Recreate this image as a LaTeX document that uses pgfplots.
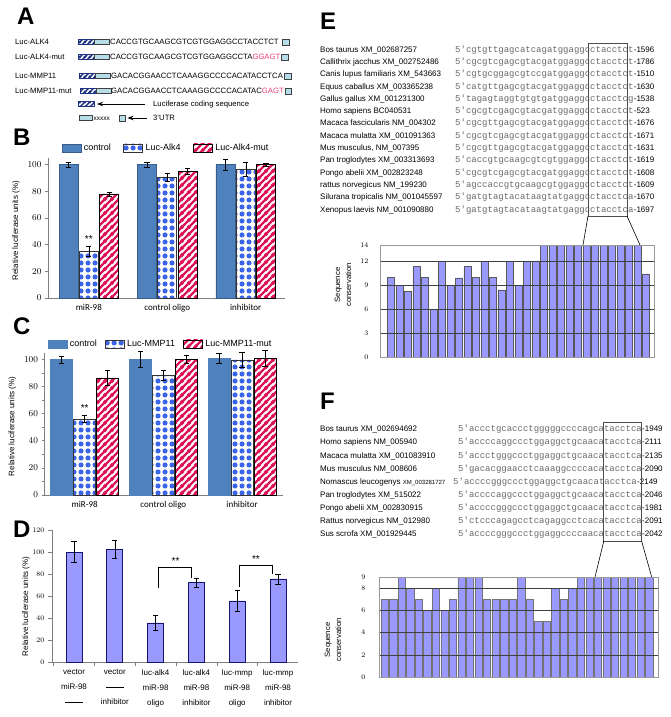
\documentclass[border=0pt]{standalone}
\usepackage{fontspec}
\setmainfont{Liberation Sans}
\newfontfamily\calibri{Carlito}
\newfontfamily\mono{Liberation Mono}
\usepackage{pgfplots}
\pgfplotsset{compat=1.18}
\usetikzlibrary{patterns,arrows.meta}

\definecolor{ctrlblue}{RGB}{79,129,189}
\definecolor{ctrledge}{RGB}{56,93,138}
\definecolor{dotblue}{RGB}{60,100,230}
\definecolor{stripered}{RGB}{220,20,90}
\definecolor{dbar}{RGB}{153,153,255}
\definecolor{dedge}{RGB}{20,20,110}
\definecolor{cyanbox}{RGB}{183,222,232}
\definecolor{navy}{RGB}{30,50,130}
\definecolor{seqgray}{RGB}{105,105,105}
\definecolor{pinktxt}{RGB}{232,60,120}

\pgfdeclarepatternformonly{bigdots}{\pgfqpoint{0pt}{0pt}}{\pgfqpoint{6.5pt}{6.5pt}}{\pgfqpoint{6.5pt}{6.5pt}}{%
  \pgfpathcircle{\pgfqpoint{3.25pt}{3.25pt}}{2.75pt}\pgfusepath{fill}}
\pgfdeclarepatternformonly{thickstripes}{\pgfqpoint{0pt}{0pt}}{\pgfqpoint{7pt}{7pt}}{\pgfqpoint{7pt}{7pt}}{%
  \pgfsetlinewidth{2.5pt}%
  \pgfpathmoveto{\pgfqpoint{-1pt}{-1pt}}\pgfpathlineto{\pgfqpoint{8pt}{8pt}}%
  \pgfpathmoveto{\pgfqpoint{-4pt}{3pt}}\pgfpathlineto{\pgfqpoint{4pt}{11pt}}%
  \pgfpathmoveto{\pgfqpoint{3pt}{-4pt}}\pgfpathlineto{\pgfqpoint{11pt}{4pt}}%
  \pgfusepath{stroke}}
\pgfdeclarepatternformonly{lucstripes}{\pgfqpoint{0pt}{0pt}}{\pgfqpoint{5pt}{5pt}}{\pgfqpoint{5pt}{5pt}}{%
  \pgfsetlinewidth{1.7pt}%
  \pgfpathmoveto{\pgfqpoint{-1pt}{-1pt}}\pgfpathlineto{\pgfqpoint{6pt}{6pt}}%
  \pgfpathmoveto{\pgfqpoint{-3pt}{2pt}}\pgfpathlineto{\pgfqpoint{3pt}{8pt}}%
  \pgfpathmoveto{\pgfqpoint{2pt}{-3pt}}\pgfpathlineto{\pgfqpoint{8pt}{3pt}}%
  \pgfusepath{stroke}}

\newcommand\panelfont{\fontsize{24}{24}\selectfont\bfseries}
\newcommand\afont{\fontsize{7.7}{9}\selectfont}
\newcommand\namefont{\fontsize{8}{9}\selectfont}
\newcommand\seqfont{\mono\fontsize{9}{10}\selectfont}
\newcommand\numfont{\fontsize{8}{9}\selectfont}

% x-start, y, name, sequence, number
\newcommand\seqrow[5]{%
  \node[anchor=base west, inner sep=0, font=\namefont] at (320,#2+2.8) {#3};
  \node[anchor=base west, inner sep=0, font=\seqfont, text=seqgray] (s) at (#1,#2+2.8) {5'#4};
  \node[anchor=base west, inner sep=0, font=\numfont] at (s.base east) {-#5};
}
\newcommand\stripebox[2]{%
  \fill[white] (#1,#2-2.5) rectangle ++(16,5);
  \fill[pattern=lucstripes, pattern color=navy] (#1,#2-2.5) rectangle ++(16,5);
  \draw[navy, line width=0.5pt] (#1,#2-2.5) rectangle ++(16,5);
}
\newcommand\cbox[3]{%
  \draw[gray!50!black, line width=0.5pt, fill=cyanbox] (#1,#2-2.5) rectangle ++(#3,5);
}

\pgfplotsset{
  boxleg/.style={legend image code/.code={\draw[##1] (0pt,-4pt) rectangle (19pt,4pt);}},
  bcstyle/.style={
    scale only axis, anchor=south west,
    axis x line*=bottom, axis y line*=left,
    axis line style={gray, line width=0.6pt},
    xtick={0,1,2}, xticklabels={miR-98,control oligo,inhibitor},
    x tick label style={font=\calibri\fontsize{9}{10}\selectfont},
    xtick style={draw=none},
    ytick={0,20,...,100},
    y tick label style={font=\fontsize{9}{10}\selectfont},
    ytick style={gray, line width=0.5pt}, tick align=outside, major tick length=3pt,
    ymin=0, ymax=105,
    legend columns=3,
    every axis y label/.style={at={(axis description cs:-0.135,0.48)}, rotate=90, anchor=center, font=\fontsize{8}{9}\selectfont},
    ylabel={Relative luciferase units (\%)},
    clip=false,
  },
  errs/.style={error bars/.cd, y dir=both, y explicit,
    error bar style={draw=black, line width=0.5pt},
    error mark options={rotate=90, draw=black, mark size=2.6pt, line width=0.5pt}},
  consstyle/.style={
    scale only axis, anchor=south west,
    axis on top, xtick=\empty,
    axis line style={gray!80, line width=0.6pt},
    ymajorgrids, major grid style={black!75, line width=0.5pt},
    ytick style={draw=none},
    y tick label style={font=\fontsize{7}{8}\selectfont},
    ymin=0,
  },
}

\begin{document}
\begin{tikzpicture}
\path[use as bounding box] (0,0) rectangle (670pt,-717pt);

% ---------------- Panel B  (bars 0.2587 units apart)
\begin{axis}[bcstyle, at={(48pt,-298pt)}, width=237pt, height=140.2pt,
  xmin=-0.52, xmax=2.5,
  legend style={at={(axis description cs:0.058,1.07)}, anchor=west, draw=none, fill=none,
    inner sep=0pt, outer sep=0pt, font=\fontsize{9}{10}\selectfont,
    nodes={inner sep=2.6pt}, /tikz/every even column/.append style={column sep=10pt}}]
\addplot[ybar, bar width=19pt, bar shift=0pt, fill=ctrlblue, draw=ctrledge, line width=0.5pt, boxleg, errs]
  coordinates {(-0.2587,100) +- (0,2) (0.7413,100) +- (0,2) (1.7413,100) +- (0,4)};
\addplot[ybar, bar width=19pt, bar shift=0pt, draw=black!80, line width=0.6pt, pattern=bigdots, pattern color=dotblue, boxleg, errs]
  coordinates {(0,35) +- (0,4) (1,90.5) +- (0,3) (2,96.5) +- (0,5)};
\addplot[ybar, bar width=19pt, bar shift=0pt, draw=black, line width=0.6pt, pattern=thickstripes, pattern color=stripered, boxleg, errs]
  coordinates {(0.2587,78) +- (0,1.5) (1.2587,95) +- (0,2.5) (2.2587,100) +- (0,1)};
\legend{control,Luc-Alk4,Luc-Alk4-mut}
\node[font=\fontsize{10}{10}\selectfont] at (axis cs:0,44) {**};
\end{axis}

% ---------------- Panel C  (bars 0.2922 units apart)
\begin{axis}[bcstyle, at={(44.5pt,-495pt)}, width=238.5pt, height=142.5pt,
  xmin=-0.51, xmax=2.52, minor y tick num=1,
  legend style={at={(axis description cs:0.015,1.06)}, anchor=west, draw=none, fill=none,
    inner sep=0pt, outer sep=0pt, font=\fontsize{9}{10}\selectfont,
    nodes={inner sep=2.4pt}, /tikz/every even column/.append style={column sep=6pt}}]
\addplot[ybar, bar width=22pt, bar shift=0pt, fill=ctrlblue, draw=ctrlblue, line width=0.3pt, boxleg, errs]
  coordinates {(-0.2922,100) +- (0,2.6) (0.7078,100) +- (0,5.8) (1.7078,100.5) +- (0,3.7)};
\addplot[ybar, bar width=22pt, bar shift=0pt, draw=black!80, line width=0.6pt, pattern=bigdots, pattern color=dotblue, boxleg, errs]
  coordinates {(0,56) +- (0,2.5) (1,88) +- (0,3.8) (2,99.5) +- (0,5.7)};
\addplot[ybar, bar width=22pt, bar shift=0pt, draw=black, line width=0.6pt, pattern=thickstripes, pattern color=stripered, boxleg, errs]
  coordinates {(0.2922,86.3) +- (0,5.6) (1.2922,100) +- (0,3) (2.2922,100.8) +- (0,5.7)};
\legend{control,Luc-MMP11,Luc-MMP11-mut}
\node[font=\fontsize{10}{10}\selectfont] at (axis cs:0,64) {**};
\end{axis}

% ---------------- Panel D
\begin{axis}[scale only axis, anchor=south west, at={(52pt,-662pt)}, width=246pt, height=132pt,
  xmin=-0.54, xmax=5.49, ymin=0, ymax=120, clip=false,
  axis x line*=bottom, axis y line*=left,
  axis line style={gray, line width=0.6pt},
  ytick={0,20,...,120}, y tick label style={font=\fontsize{7.5}{9}\selectfont},
  ytick style={gray, line width=0.5pt}, tick align=outside, major tick length=4pt,
  xtick={0,...,5}, xtick style={draw=none},
  xticklabels={{vector\\miR-98\\\rule[2.4pt]{18pt}{0.7pt}},
               {vector\\\rule[2.4pt]{18pt}{0.7pt}\\inhibitor},
               {luc-alk4\\miR-98\\oligo},
               {luc-alk4\\miR-98\\inhibitor},
               {luc-mmp\\miR-98\\oligo},
               {luc-mmp\\miR-98\\inhibitor}},
  x tick label style={align=center, font=\fontsize{8}{15}\selectfont, yshift=0pt},
  extra x ticks={-0.5,0.5,1.5,2.5,3.5,4.5}, extra x tick labels={},
  extra x tick style={xtick style={draw=gray, line width=0.5pt}},
  every axis y label/.style={at={(axis description cs:-0.105,0.42)}, rotate=90, anchor=center, font=\fontsize{8}{9}\selectfont},
  ylabel={Relative luciferase units (\%)}]
\addplot[ybar, bar width=16pt, fill=dbar, draw=dedge, line width=0.7pt, errs]
  coordinates {(0,100) +- (0,9.5) (1,102.5) +- (0,8) (2,35.5) +- (0,7) (3,72) +- (0,3.8) (4,55.5) +- (0,9.5) (5,75.5) +- (0,4.5)};
\draw[black, line width=0.6pt] (axis cs:2.07,67) |- (axis cs:2.88,86.4) -- (axis cs:2.88,76.4);
\draw[black, line width=0.6pt] (axis cs:4.05,68) |- (axis cs:4.85,88) -- (axis cs:4.85,80);
\node[font=\fontsize{10}{10}\selectfont] at (axis cs:2.49,92) {**};
\node[font=\fontsize{10}{10}\selectfont] at (axis cs:4.46,94) {**};
\end{axis}

% ---------------- Panel E chart
\begin{axis}[consstyle, at={(380pt,-357pt)}, width=274pt, height=112pt,
  xmin=-0.3, xmax=31.95, ymax=14, ytick={0,3,6,9,12,14},
  y tick label style={xshift=-8pt}]
\addplot[ybar, bar width=7.3pt, fill=dbar, draw=black!65, line width=0.5pt]
  coordinates {(1,10) (2,9) (3,8.2) (4,11.3) (5,10) (6,6) (7,12) (8,9) (9,9.9) (10,11.3)
  (11,10) (12,12) (13,10) (14,8.4) (15,12) (16,9) (17,12) (18,12) (19,14) (20,14)
  (21,14) (22,14) (23,14) (24,14) (25,14) (26,14) (27,14) (28,14) (29,14) (30,14) (31,10.4)};
\end{axis}

% ---------------- Panel F chart
\begin{axis}[consstyle, at={(379pt,-677pt)}, width=279pt, height=100pt,
  xmin=0.33, xmax=33.04, ymax=9, ytick={0,2,4,6,8,9},
  y tick label style={xshift=-10pt}]
\addplot[ybar, bar width=7.3pt, fill=dbar, draw=black!55, line width=0.5pt]
  coordinates {(1,7) (2,7) (3,9) (4,8) (5,7) (6,6) (7,8) (8,6) (9,7) (10,9)
  (11,9) (12,9) (13,7) (14,7) (15,7) (16,7) (17,9) (18,7) (19,5) (20,5)
  (21,8) (22,7) (23,8) (24,9) (25,9) (26,9) (27,9) (28,9) (29,9) (30,9) (31,9) (32,9)};
\end{axis}

\begin{scope}[x=1pt,y=-1pt]
% panel letters
\node[anchor=north west, inner sep=0, font=\panelfont] at (17,8) {A};
\node[anchor=north west, inner sep=0, font=\panelfont] at (13,129) {B};
\node[anchor=north west, inner sep=0, font=\panelfont] at (13,318) {C};
\node[anchor=north west, inner sep=0, font=\panelfont] at (13,521) {D};
\node[anchor=north west, inner sep=0, font=\panelfont] at (320,13) {E};
\node[anchor=north west, inner sep=0, font=\panelfont] at (320,393) {F};

% ---------------- Panel A
\node[anchor=base west, inner sep=0, font=\afont] at (15,44.8) {Luc-ALK4};
\node[anchor=base west, inner sep=0, font=\afont] at (15,59.8) {Luc-ALK4-mut};
\node[anchor=base west, inner sep=0, font=\afont] at (15,78.8) {Luc-MMP11};
\node[anchor=base west, inner sep=0, font=\afont] at (15,93.6) {Luc-MMP11-mut};

\stripebox{78}{42}\cbox{94}{42}{15}
\node[anchor=base west, inner sep=0, font=\afont] (a1) at (110,44.8) {CACCGTGCAAGCGTCGTGGAGGCCTACCTCT};
\draw[gray!50!black, line width=0.5pt, fill=cyanbox] (a1.east) ++(3.5,-3.3) rectangle ++(6.5,6.5);

\stripebox{78}{57}\cbox{94}{57}{15}
\node[anchor=base west, inner sep=0, font=\afont] (a2) at (110,59.8) {CACCGTGCAAGCGTCGTGGAGGCCTA\textcolor{pinktxt}{GGAGT}};
\draw[gray!50!black, line width=0.5pt, fill=cyanbox] (a2.east) ++(1.2,-3.3) rectangle ++(6.5,6.5);

\stripebox{79}{76}\cbox{95}{76}{15}
\node[anchor=base west, inner sep=0, font=\afont] (a3) at (111,78.8) {GACACGGAACCTCAAAGGCCCCACATACCTCA};
\draw[gray!50!black, line width=0.5pt, fill=cyanbox] (a3.east) ++(1.2,-3.3) rectangle ++(6.5,6.5);

\stripebox{80}{91}\cbox{96}{91}{15}
\node[anchor=base west, inner sep=0, font=\afont] (a4) at (111,93.8) {GACACGGAACCTCAAAGGCCCCACATAC\textcolor{pinktxt}{GAGT}};
\draw[gray!50!black, line width=0.5pt, fill=cyanbox] (a4.east) ++(1.2,-3.3) rectangle ++(6.5,6.5);

\stripebox{78}{104}
\draw[line width=0.8pt, -{Stealth[length=6pt,width=4.5pt]}] (145,104) -- (97,104);
\node[anchor=base west, inner sep=0, font=\afont] at (153,106.8) {Luciferase coding sequence};

\cbox{79}{118}{13}
\node[anchor=base west, inner sep=0, font=\fontsize{6.5}{7}\selectfont] at (93.3,120.2) {xxxxx};
\draw[gray!50!black, line width=0.5pt, fill=cyanbox] (119,114.8) rectangle ++(6.5,6.5);
\draw[line width=0.8pt, -{Stealth[length=6pt,width=4.5pt]}] (147,118) -- (127.5,118);
\node[anchor=base west, inner sep=0, font=\afont] at (153,120.8) {3'UTR};

% ---------------- Panel E alignment
\seqrow{455}{49.3}{Bos taurus XM\_002687257}{cgtgttgagcatcagatggaggcctacctct}{1596}
\seqrow{455}{61.6}{Callithrix jacchus XM\_002752486}{cgcgtcgagcgtacgatggaggcctacctct}{1786}
\seqrow{455}{73.9}{Canis lupus familiaris XM\_543663}{cgtgcggagcgtccgatggaggcctacctct}{1510}
\seqrow{455}{86.2}{Equus caballus XM\_003365238}{catgttgagcgtacgatggaggcctacctct}{1630}
\seqrow{455}{98.5}{Gallus gallus XM\_001231300}{tagagtaggtgtgtgatggaggcctacctcg}{1538}
\seqrow{455}{110.8}{Homo sapiens BC040531}{cgcgtcgagcgtacgatggaggcctacctct}{523}
\seqrow{455}{123.1}{Macaca fascicularis NM\_004302}{cgcgttgagcgtacgatggaggcctacctct}{1676}
\seqrow{455}{135.4}{Macaca mulatta XM\_001091363}{cgcgtcgagcgtacgatggaggcctacctct}{1671}
\seqrow{455}{147.7}{Mus musculus, NM\_007395}{cgcgttgagcgtacgatggaggcctacctct}{1631}
\seqrow{455}{160.0}{Pan troglodytes XM\_003313693}{caccgtgcaagcgtcgtggaggcctacctct}{1619}
\seqrow{455}{172.3}{Pongo abelii XM\_002823248}{cgcgtcgagcgtacgatggaggcctacctct}{1608}
\seqrow{455}{184.6}{rattus norvegicus NM\_199230}{agccaccgtgcaagcgtggaggcctacctct}{1609}
\seqrow{455}{196.9}{Silurana tropicalis NM\_001045597}{gatgtagtacataagtatgaggcctacctca}{1670}
\seqrow{455}{209.2}{Xenopus laevis NM\_001090880}{gatgtagtacataagtatgaggcctacctca}{1697}
\draw[black!70, line width=0.8pt] (588,43) rectangle (627,216);
\draw[black, line width=0.6pt] (588,216) -- (583,245);
\draw[black, line width=0.6pt] (627,216) -- (640,245);
\node[rotate=90, align=center, font=\fontsize{7.7}{11}\selectfont] at (343,285) {Sequence\\conservation};

% ---------------- Panel F alignment
\seqrow{458}{429.0}{Bos taurus XM\_002694692}{accctgcaccctgggggccccagcatacctca}{1949}
\seqrow{458}{442.1}{Homo sapiens NM\_005940}{accccaggccctggaggctgcaacatacctca}{2111}
\seqrow{458}{455.2}{Macaca mulatta XM\_001083910}{accctgggccctggaggctgcaacatacctca}{2135}
\seqrow{458}{468.3}{Mus musculus NM\_008606}{gacacggaacctcaaaggccccacatacctca}{2090}
\seqrow{453}{481.4}{Nomascus leucogenys {\fontsize{6}{7}\selectfont XM\_003281727}}{accccgggccctggaggctgcaacatacctca}{2149}
\seqrow{458}{494.5}{Pan troglodytes XM\_515022}{accccaggccctggaggctgcaacatacctca}{2046}
\seqrow{458}{507.6}{Pongo abelii XM\_002830915}{accccgggccctggaggctgcaacatacctca}{1981}
\seqrow{458}{520.7}{Rattus norvegicus NM\_012980}{ctcccagagcctcagaggcctcacatacctca}{2091}
\seqrow{458}{533.8}{Sus scrofa XM\_001929445}{accccgggccctggaggccccaacatacctca}{2042}
\draw[black!70, line width=0.8pt] (603.8,422) rectangle (641.6,541);
\draw[black, line width=0.6pt] (603.8,541) -- (595,577);
\draw[black, line width=0.6pt] (641.6,541) -- (651.7,577);
\node[rotate=90, align=center, font=\fontsize{7.7}{11}\selectfont] at (333,640) {Sequence\\conservation};
\end{scope}
\end{tikzpicture}
\end{document}
